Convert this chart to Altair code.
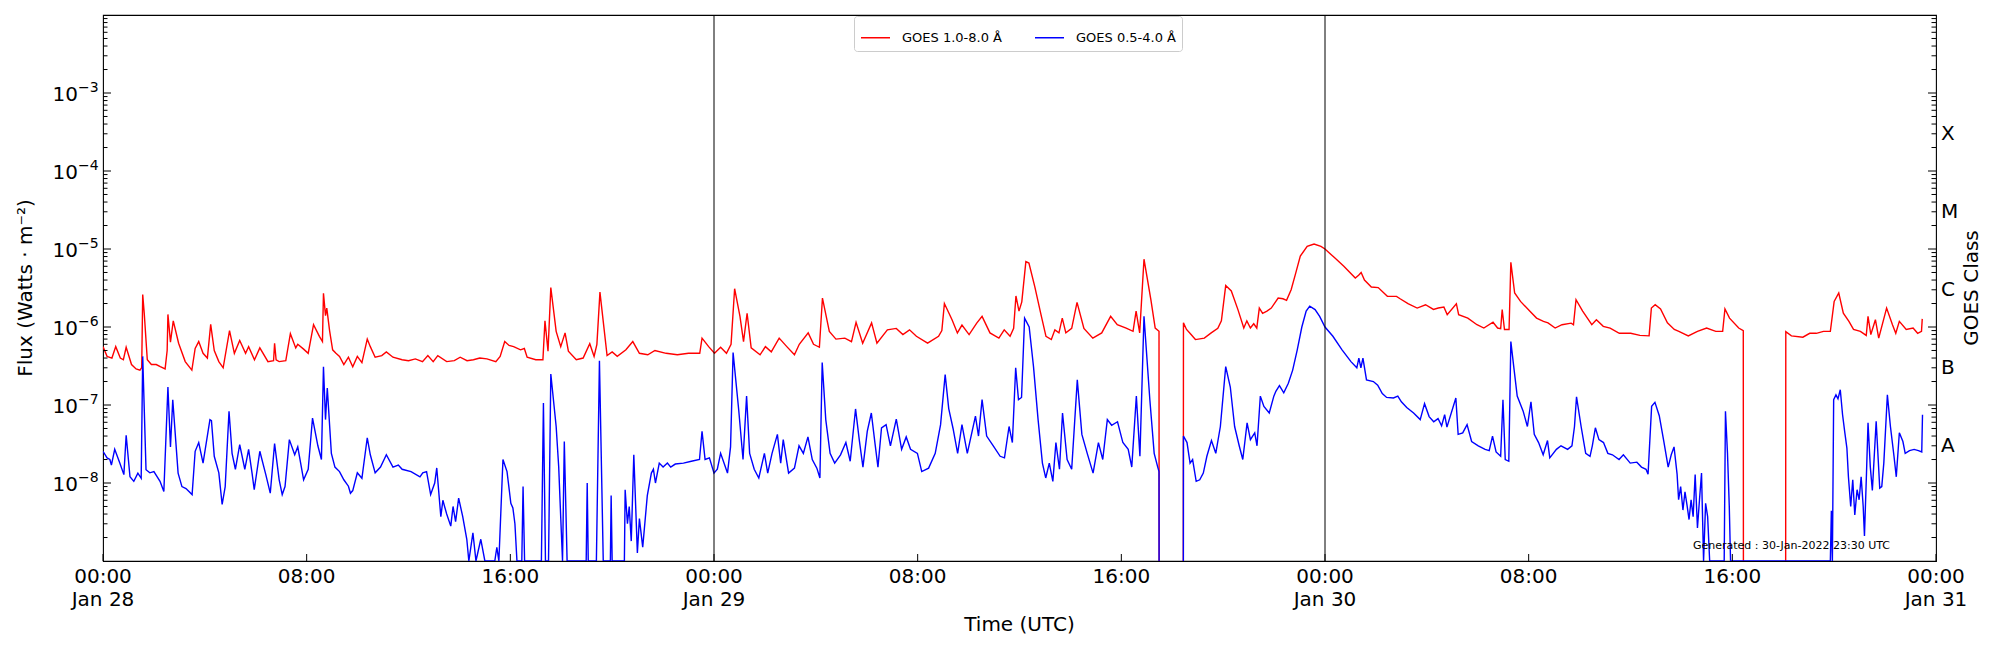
import altair as alt
import pandas as pd

# ---------------- data (hours since 2022-01-28 00:00 UTC, flux in W/m^2) ----------------
RED_NAME = "GOES 1.0-8.0 Å"
BLUE_NAME = "GOES 0.5-4.0 Å"

red_points = [
    (0.00, 5.6e-7), (0.16, 4.2e-7), (0.35, 4.0e-7), (0.50, 5.6e-7), (0.68, 4.0e-7), (0.80, 3.8e-7),
    (0.91, 5.5e-7), (1.12, 3.3e-7), (1.30, 2.9e-7), (1.45, 2.8e-7), (1.52, 3.0e-7), (1.56, 2.6e-6),
    (1.62, 1.5e-6), (1.74, 3.8e-7), (1.90, 3.3e-7), (2.09, 3.3e-7), (2.25, 3.1e-7), (2.44, 2.9e-7),
    (2.52, 5.0e-7), (2.55, 1.45e-6), (2.65, 6.4e-7), (2.76, 1.2e-6), (2.97, 6.2e-7), (3.23, 3.6e-7),
    (3.49, 2.8e-7), (3.62, 5.3e-7), (3.76, 6.5e-7), (3.93, 4.6e-7), (4.10, 4.0e-7), (4.23, 1.08e-6),
    (4.37, 5.0e-7), (4.55, 3.6e-7), (4.72, 3.0e-7), (4.97, 9.0e-7), (5.16, 4.6e-7), (5.37, 6.7e-7),
    (5.60, 4.6e-7), (5.72, 5.6e-7), (5.95, 3.8e-7), (6.16, 5.4e-7), (6.48, 3.6e-7), (6.70, 3.7e-7),
    (6.74, 6.2e-7), (6.80, 3.8e-7), (6.92, 3.6e-7), (7.18, 3.7e-7), (7.36, 8.2e-7), (7.57, 5.4e-7),
    (7.65, 6.0e-7), (7.88, 5.2e-7), (8.06, 4.6e-7), (8.27, 1.07e-6), (8.50, 7.6e-7), (8.62, 6.5e-7),
    (8.66, 2.7e-6), (8.74, 1.4e-6), (8.79, 1.75e-6), (8.90, 9.0e-7), (9.02, 5.1e-7), (9.15, 4.6e-7),
    (9.29, 4.2e-7), (9.46, 3.3e-7), (9.64, 4.1e-7), (9.81, 3.1e-7), (9.99, 4.2e-7), (10.17, 3.5e-7),
    (10.38, 7.0e-7), (10.50, 5.6e-7), (10.69, 4.1e-7), (10.95, 4.3e-7), (11.13, 4.8e-7), (11.39, 4.1e-7),
    (11.75, 3.8e-7), (12.00, 3.7e-7), (12.27, 3.9e-7), (12.55, 3.6e-7), (12.76, 4.3e-7), (12.97, 3.6e-7),
    (13.15, 4.3e-7), (13.50, 3.6e-7), (13.80, 3.7e-7), (14.03, 4.1e-7), (14.30, 3.7e-7), (14.55, 3.8e-7),
    (14.80, 4.0e-7), (15.08, 3.9e-7), (15.43, 3.6e-7), (15.60, 4.2e-7), (15.78, 6.5e-7), (15.95, 5.8e-7),
    (16.13, 5.6e-7), (16.40, 5.1e-7), (16.55, 5.3e-7), (16.66, 4.1e-7), (17.00, 3.8e-7), (17.28, 3.8e-7),
    (17.36, 1.2e-6), (17.48, 4.9e-7), (17.59, 3.2e-6), (17.80, 8.8e-7), (17.98, 5.6e-7), (18.15, 8.4e-7),
    (18.28, 4.9e-7), (18.59, 3.8e-7), (18.86, 4.0e-7), (19.12, 6.1e-7), (19.29, 4.2e-7), (19.40, 6.0e-7),
    (19.52, 2.8e-6), (19.80, 4.3e-7), (20.00, 4.8e-7), (20.20, 4.2e-7), (20.54, 5.1e-7), (20.81, 6.5e-7),
    (21.07, 4.6e-7), (21.40, 4.4e-7), (21.68, 5.0e-7), (22.12, 4.6e-7), (22.56, 4.4e-7), (23.00, 4.6e-7),
    (23.44, 4.6e-7), (23.53, 7.2e-7), (23.79, 5.6e-7), (24.02, 4.6e-7), (24.26, 5.5e-7), (24.49, 4.6e-7),
    (24.67, 6.0e-7), (24.81, 3.1e-6), (25.02, 1.37e-6), (25.16, 6.5e-7), (25.30, 1.5e-6), (25.46, 5.4e-7),
    (25.81, 4.4e-7), (26.02, 5.6e-7), (26.25, 4.8e-7), (26.56, 7.2e-7), (26.86, 5.6e-7), (27.16, 4.4e-7),
    (27.35, 6.0e-7), (27.70, 8.4e-7), (27.91, 6.0e-7), (28.14, 5.5e-7), (28.26, 2.35e-6), (28.53, 8.8e-7),
    (28.79, 7.0e-7), (29.14, 7.2e-7), (29.40, 6.5e-7), (29.58, 1.15e-6), (29.84, 6.2e-7), (30.19, 1.13e-6),
    (30.40, 6.2e-7), (30.81, 9.2e-7), (31.16, 9.6e-7), (31.42, 8.0e-7), (31.68, 9.2e-7), (31.95, 7.6e-7),
    (32.39, 6.2e-7), (32.82, 7.6e-7), (32.95, 9.0e-7), (33.05, 2.0e-6), (33.35, 1.24e-6), (33.56, 8.4e-7),
    (33.74, 1.06e-6), (34.02, 8.0e-7), (34.32, 1.12e-6), (34.53, 1.37e-6), (34.84, 8.4e-7), (35.19, 7.2e-7),
    (35.40, 9.2e-7), (35.63, 7.6e-7), (35.77, 9.6e-7), (35.86, 2.5e-6), (35.98, 1.6e-6), (36.09, 2.1e-6),
    (36.25, 6.9e-6), (36.37, 6.6e-6), (36.60, 3.3e-6), (36.86, 1.37e-6), (37.04, 7.6e-7), (37.25, 6.9e-7),
    (37.39, 9.2e-7), (37.55, 8.4e-7), (37.68, 1.3e-6), (37.82, 8.4e-7), (38.05, 9.6e-7), (38.26, 2.07e-6),
    (38.53, 9.6e-7), (38.88, 7.2e-7), (39.23, 8.4e-7), (39.58, 1.37e-6), (39.84, 1.07e-6), (40.19, 9.7e-7),
    (40.46, 8.8e-7), (40.58, 1.6e-6), (40.72, 8.4e-7), (40.89, 7.4e-6), (41.16, 2.24e-6), (41.33, 9.7e-7),
    (41.48, 8.8e-7), (41.49, 1e-12), (42.43, 1e-12), (42.44, 1.13e-6), (42.56, 9.3e-7), (42.74, 8.0e-7),
    (42.91, 6.9e-7), (43.26, 7.2e-7), (43.53, 8.4e-7), (43.79, 9.6e-7), (43.93, 1.2e-6), (44.10, 3.4e-6),
    (44.32, 2.9e-6), (44.58, 1.67e-6), (44.81, 9.7e-7), (44.93, 1.2e-6), (45.07, 9.7e-7), (45.20, 1.1e-6),
    (45.32, 9.7e-7), (45.42, 1.75e-6), (45.55, 1.5e-6), (45.72, 1.6e-6), (45.89, 1.75e-6), (46.16, 2.35e-6),
    (46.35, 2.3e-6), (46.49, 2.2e-6), (46.67, 3.0e-6), (46.85, 4.9e-6), (47.03, 8.1e-6), (47.30, 1.08e-5),
    (47.57, 1.16e-5), (47.84, 1.08e-5), (48.00, 1.0e-5), (48.38, 7.7e-6), (48.74, 6.0e-6), (49.19, 4.25e-6),
    (49.32, 4.6e-6), (49.42, 5.0e-6), (49.55, 4.0e-6), (49.82, 3.26e-6), (50.09, 3.2e-6), (50.45, 2.47e-6),
    (50.81, 2.47e-6), (50.95, 2.3e-6), (51.26, 1.99e-6), (51.62, 1.75e-6), (51.95, 1.93e-6), (52.26, 1.68e-6),
    (52.45, 1.75e-6), (52.67, 1.8e-6), (52.80, 1.44e-6), (53.16, 1.99e-6), (53.25, 1.44e-6), (53.61, 1.3e-6),
    (53.97, 1.07e-6), (54.24, 9.7e-7), (54.60, 1.15e-6), (54.78, 9.7e-7), (54.90, 9.5e-7), (54.96, 1.67e-6),
    (55.05, 9.3e-7), (55.23, 9.3e-7), (55.30, 6.75e-6), (55.45, 2.73e-6), (55.68, 2.13e-6), (56.04, 1.6e-6),
    (56.31, 1.3e-6), (56.58, 1.18e-6), (56.76, 1.13e-6), (57.04, 9.7e-7), (57.31, 1.07e-6), (57.67, 1.12e-6),
    (57.76, 1.07e-6), (57.86, 2.24e-6), (58.12, 1.6e-6), (58.48, 1.07e-6), (58.66, 1.24e-6), (58.93, 1.02e-6),
    (59.20, 9.7e-7), (59.56, 8.3e-7), (60.01, 8.3e-7), (60.37, 7.8e-7), (60.73, 7.7e-7), (60.82, 1.75e-6),
    (60.97, 1.93e-6), (61.18, 1.7e-6), (61.45, 1.13e-6), (61.72, 9.3e-7), (61.90, 8.8e-7), (62.27, 7.7e-7),
    (62.63, 8.8e-7), (62.99, 9.7e-7), (63.35, 8.8e-7), (63.62, 8.8e-7), (63.71, 1.7e-6), (63.89, 1.3e-6),
    (64.25, 9.7e-7), (64.43, 9.0e-7), (64.44, 1e-12), (66.09, 1e-12), (66.10, 8.7e-7), (66.32, 7.7e-7),
    (66.77, 7.4e-7), (67.04, 8.3e-7), (67.30, 8.3e-7), (67.58, 8.8e-7), (67.85, 8.8e-7), (68.00, 2.13e-6),
    (68.18, 2.73e-6), (68.36, 1.5e-6), (68.58, 1.18e-6), (68.76, 9.3e-7), (69.03, 8.8e-7), (69.26, 7.8e-7),
    (69.33, 1.37e-6), (69.44, 8.0e-7), (69.62, 1.24e-6), (69.75, 7.2e-7), (70.06, 1.75e-6), (70.29, 1.07e-6),
    (70.42, 8.3e-7), (70.56, 1.18e-6), (70.83, 9.3e-7), (71.10, 9.7e-7), (71.28, 8.3e-7), (71.43, 8.8e-7),
    (71.46, 1.27e-6),
]

blue_points = [
    (0.00, 2.55e-8), (0.16, 2.1e-8), (0.27, 2.0e-8), (0.33, 1.7e-8), (0.46, 2.7e-8), (0.66, 1.8e-8),
    (0.82, 1.28e-8), (0.91, 4.1e-8), (1.06, 1.2e-8), (1.21, 1.05e-8), (1.37, 1.34e-8), (1.50, 1.15e-8),
    (1.56, 4.2e-7), (1.69, 1.48e-8), (1.84, 1.35e-8), (2.00, 1.4e-8), (2.24, 1.05e-8), (2.39, 7.8e-9),
    (2.55, 1.7e-7), (2.65, 2.9e-8), (2.74, 1.17e-7), (2.95, 1.34e-8), (3.10, 9.0e-9), (3.26, 8.5e-9),
    (3.50, 7.1e-9), (3.62, 2.55e-8), (3.76, 3.3e-8), (3.93, 1.8e-8), (4.20, 6.5e-8), (4.26, 6.3e-8),
    (4.37, 2.2e-8), (4.55, 1.35e-8), (4.68, 5.3e-9), (4.80, 9.0e-9), (4.95, 8.3e-8), (5.07, 2.4e-8),
    (5.20, 1.5e-8), (5.37, 3.1e-8), (5.57, 1.5e-8), (5.72, 2.7e-8), (5.86, 1.3e-8), (5.94, 8.2e-9),
    (6.16, 2.55e-8), (6.39, 1.3e-8), (6.57, 7.4e-9), (6.74, 3.2e-8), (6.92, 1.1e-8), (7.04, 7.1e-9),
    (7.15, 9.0e-9), (7.32, 3.6e-8), (7.53, 2.3e-8), (7.65, 2.9e-8), (7.88, 1.1e-8), (8.06, 1.5e-8),
    (8.23, 6.8e-8), (8.44, 3.0e-8), (8.58, 2.0e-8), (8.66, 3.1e-7), (8.74, 6.5e-8), (8.81, 1.65e-7),
    (8.97, 2.4e-8), (9.11, 1.6e-8), (9.29, 1.4e-8), (9.46, 1.1e-8), (9.64, 9.1e-9), (9.72, 7.4e-9),
    (9.81, 8.0e-9), (9.99, 1.35e-8), (10.17, 1.15e-8), (10.38, 3.8e-8), (10.50, 2.3e-8), (10.69, 1.35e-8),
    (10.90, 1.6e-8), (11.13, 2.3e-8), (11.39, 1.6e-8), (11.60, 1.7e-8), (11.75, 1.5e-8), (12.10, 1.4e-8),
    (12.45, 1.2e-8), (12.56, 1.35e-8), (12.71, 1.4e-8), (12.87, 7.1e-9), (13.03, 1.0e-8), (13.11, 1.56e-8),
    (13.27, 3.7e-9), (13.35, 6.0e-9), (13.50, 4.0e-9), (13.66, 2.8e-9), (13.75, 5.0e-9), (13.85, 3.2e-9),
    (13.97, 6.4e-9), (14.13, 3.7e-9), (14.29, 1.9e-9), (14.37, 1e-9), (14.53, 2.3e-9), (14.65, 1e-9),
    (14.84, 1.9e-9), (15.00, 1e-9), (15.39, 1e-9), (15.47, 1.5e-9), (15.55, 1e-9), (15.71, 2.0e-8),
    (15.87, 1.4e-8), (16.02, 5.5e-9), (16.10, 4.8e-9), (16.18, 3.0e-9), (16.26, 1e-9), (16.45, 1e-9),
    (16.50, 9.0e-9), (16.56, 1e-9), (17.22, 1e-9), (17.30, 1.06e-7), (17.38, 1e-9), (17.50, 1e-9),
    (17.59, 2.5e-7), (17.80, 5.3e-8), (17.90, 1.6e-8), (17.98, 3.6e-9), (18.05, 1e-9), (18.12, 3.4e-8),
    (18.23, 1e-9), (18.98, 1e-9), (19.02, 1.0e-8), (19.06, 1e-9), (19.38, 1e-9), (19.50, 3.7e-7),
    (19.65, 1e-9), (19.93, 1e-9), (19.96, 6.9e-9), (20.00, 1e-9), (20.48, 1e-9), (20.51, 8.2e-9),
    (20.60, 3.0e-9), (20.67, 5.0e-9), (20.75, 1.8e-9), (20.85, 2.3e-8), (20.99, 1.27e-9), (21.07, 3.5e-9),
    (21.20, 1.5e-9), (21.38, 6.9e-9), (21.54, 1.34e-8), (21.62, 1.5e-8), (21.70, 1.0e-8), (21.85, 1.8e-8),
    (22.00, 1.6e-8), (22.17, 1.8e-8), (22.30, 1.6e-8), (22.48, 1.75e-8), (22.80, 1.8e-8), (23.11, 1.9e-8),
    (23.43, 2.0e-8), (23.53, 4.6e-8), (23.65, 2.0e-8), (23.82, 2.1e-8), (24.00, 1.34e-8), (24.13, 1.5e-8),
    (24.26, 2.4e-8), (24.53, 1.34e-8), (24.65, 2.9e-8), (24.75, 4.7e-7), (24.97, 8.7e-8), (25.14, 2.0e-8),
    (25.28, 1.3e-7), (25.40, 2.4e-8), (25.58, 1.5e-8), (25.76, 1.16e-8), (25.98, 2.4e-8), (26.11, 1.34e-8),
    (26.28, 2.4e-8), (26.49, 4.2e-8), (26.62, 1.8e-8), (26.72, 3.6e-8), (26.93, 1.34e-8), (27.16, 1.55e-8),
    (27.34, 3.0e-8), (27.51, 2.4e-8), (27.69, 3.9e-8), (27.86, 2.0e-8), (28.04, 1.55e-8), (28.16, 1.16e-8),
    (28.25, 3.5e-7), (28.39, 6.5e-8), (28.56, 2.4e-8), (28.74, 1.8e-8), (28.97, 2.3e-8), (29.18, 3.3e-8),
    (29.35, 1.9e-8), (29.56, 8.9e-8), (29.71, 3.5e-8), (29.85, 1.6e-8), (30.02, 4.6e-8), (30.18, 7.9e-8),
    (30.32, 3.3e-8), (30.44, 1.6e-8), (30.58, 5.1e-8), (30.76, 5.6e-8), (30.93, 3.0e-8), (31.16, 6.6e-8),
    (31.37, 2.7e-8), (31.55, 3.9e-8), (31.72, 2.7e-8), (31.99, 2.4e-8), (32.16, 1.4e-8), (32.43, 1.55e-8),
    (32.69, 2.4e-8), (32.90, 5.6e-8), (33.08, 2.45e-7), (33.22, 9.0e-8), (33.39, 5.0e-8), (33.57, 2.4e-8),
    (33.74, 5.6e-8), (33.95, 2.4e-8), (34.27, 7.2e-8), (34.39, 4.0e-8), (34.53, 1.17e-7), (34.71, 4.0e-8),
    (34.97, 3.0e-8), (35.24, 2.2e-8), (35.41, 2.1e-8), (35.59, 5.3e-8), (35.72, 3.3e-8), (35.85, 3.0e-7),
    (35.96, 1.17e-7), (36.08, 1.25e-7), (36.20, 1.3e-6), (36.38, 1.0e-6), (36.55, 3.1e-7), (36.73, 6.5e-8),
    (36.90, 1.8e-8), (37.03, 1.16e-8), (37.17, 1.8e-8), (37.31, 1.05e-8), (37.43, 3.3e-8), (37.57, 1.5e-8),
    (37.69, 7.9e-8), (37.87, 2.0e-8), (38.05, 1.5e-8), (38.27, 2.1e-7), (38.45, 4.2e-8), (38.66, 2.4e-8),
    (38.89, 1.34e-8), (39.10, 3.3e-8), (39.27, 2.0e-8), (39.45, 6.5e-8), (39.62, 5.5e-8), (39.85, 6.1e-8),
    (40.06, 3.3e-8), (40.27, 2.7e-8), (40.41, 1.6e-8), (40.59, 1.3e-7), (40.73, 2.2e-8), (40.89, 1.37e-6),
    (41.12, 1.17e-7), (41.29, 2.4e-8), (41.43, 1.6e-8), (41.48, 1.4e-8), (41.49, 1e-12), (42.43, 1e-12),
    (42.44, 4.0e-8),
    (42.58, 3.3e-8), (42.70, 1.8e-8), (42.80, 2.0e-8), (42.94, 1.05e-8), (43.08, 1.1e-8), (43.22, 1.34e-8),
    (43.36, 2.2e-8), (43.54, 3.5e-8), (43.71, 2.4e-8), (43.89, 5.3e-8), (44.10, 3.1e-7), (44.28, 1.7e-7),
    (44.45, 5.3e-8), (44.63, 3.0e-8), (44.77, 2.0e-8), (44.94, 5.9e-8), (45.07, 3.6e-8), (45.24, 4.4e-8),
    (45.33, 3.0e-8), (45.46, 1.3e-7), (45.60, 9.6e-8), (45.81, 7.9e-8), (45.99, 1.3e-7), (46.07, 1.5e-7),
    (46.21, 1.77e-7), (46.38, 1.43e-7), (46.56, 1.9e-7), (46.73, 2.8e-7), (46.91, 5.1e-7), (47.09, 1.0e-6),
    (47.26, 1.6e-6), (47.40, 1.85e-6), (47.61, 1.67e-6), (47.79, 1.37e-6), (48.00, 1.0e-6), (48.31, 7.6e-7),
    (48.67, 5.1e-7), (49.02, 3.6e-7), (49.25, 3.0e-7), (49.33, 4.0e-7), (49.41, 3.0e-7), (49.49, 4.0e-7),
    (49.63, 2.1e-7), (49.90, 2.0e-7), (50.07, 1.8e-7), (50.25, 1.4e-7), (50.42, 1.25e-7), (50.69, 1.23e-7),
    (50.86, 1.3e-7), (51.00, 1.1e-7), (51.21, 9.3e-8), (51.48, 7.9e-8), (51.74, 6.5e-8), (51.91, 1.04e-7),
    (52.09, 7.1e-8), (52.27, 6.1e-8), (52.44, 6.7e-8), (52.58, 5.4e-8), (52.70, 7.5e-8), (52.79, 5.2e-8),
    (53.14, 1.23e-7), (53.23, 4.2e-8), (53.41, 4.4e-8), (53.58, 5.6e-8), (53.76, 3.4e-8), (54.02, 3.0e-8),
    (54.29, 2.7e-8), (54.45, 2.6e-8), (54.58, 4.0e-8), (54.72, 2.5e-8), (54.90, 2.2e-8), (54.99, 1.17e-7),
    (55.08, 2.0e-8), (55.22, 1.9e-8), (55.30, 6.5e-7), (55.43, 2.8e-7), (55.55, 1.3e-7), (55.78, 8.4e-8),
    (55.95, 5.3e-8), (56.09, 1.1e-7), (56.22, 4.2e-8), (56.39, 3.3e-8), (56.57, 2.3e-8), (56.74, 3.5e-8),
    (56.83, 2.1e-8), (57.09, 2.7e-8), (57.27, 3.0e-8), (57.53, 2.7e-8), (57.70, 3.0e-8), (57.80, 5.3e-8),
    (57.88, 1.27e-7), (58.06, 5.3e-8), (58.24, 2.4e-8), (58.41, 2.2e-8), (58.50, 3.0e-8), (58.62, 5.1e-8),
    (58.76, 3.6e-8), (58.94, 3.3e-8), (59.11, 2.4e-8), (59.29, 2.3e-8), (59.55, 2.0e-8), (59.72, 2.3e-8),
    (59.99, 1.8e-8), (60.25, 1.85e-8), (60.43, 1.6e-8), (60.61, 1.5e-8), (60.69, 1.3e-8), (60.83, 9.6e-8),
    (60.96, 1.08e-7), (61.13, 7.3e-8), (61.31, 3.4e-8), (61.48, 1.6e-8), (61.60, 2.3e-8), (61.71, 2.9e-8),
    (61.83, 1.3e-8), (61.89, 6.1e-9), (61.97, 9.0e-9), (62.06, 4.5e-9), (62.14, 7.7e-9), (62.22, 5.2e-9),
    (62.30, 3.4e-9), (62.38, 6.1e-9), (62.46, 3.7e-9), (62.54, 1.28e-8), (62.63, 2.65e-9), (62.71, 6.1e-9),
    (62.79, 1.34e-8), (62.87, 1e-9), (62.95, 5.5e-9), (63.03, 3.7e-9), (63.11, 1e-9), (63.68, 1e-9),
    (63.73, 8.3e-8), (63.81, 2.4e-8), (63.88, 5.0e-9), (63.93, 1e-9), (67.85, 1e-9), (67.89, 4.4e-9),
    (67.93, 1e-9), (67.98, 1.17e-7), (68.07, 1.35e-7), (68.15, 1.2e-7), (68.24, 1.57e-7), (68.33, 7.5e-8),
    (68.42, 4.4e-8), (68.50, 2.8e-8), (68.56, 1.2e-8), (68.65, 5.0e-9), (68.73, 1.1e-8), (68.81, 3.9e-9),
    (68.90, 8.2e-9), (68.98, 6.1e-9), (69.06, 1.2e-8), (69.14, 5.0e-9), (69.19, 2.1e-9), (69.27, 1.34e-8),
    (69.33, 5.9e-8), (69.42, 1.6e-8), (69.50, 8.0e-9), (69.65, 6.2e-8), (69.73, 2.0e-8), (69.79, 8.6e-9),
    (69.87, 9.0e-9), (69.95, 1.8e-8), (70.09, 1.35e-7), (70.21, 5.3e-8), (70.35, 2.2e-8), (70.44, 1.2e-8),
    (70.56, 4.4e-8), (70.70, 3.4e-8), (70.79, 2.4e-8), (70.96, 2.6e-8), (71.14, 2.7e-8), (71.31, 2.6e-8),
    (71.44, 2.5e-8), (71.47, 7.5e-8),
]

day_boundaries = [24, 48]
x_tick_hours = [0, 8, 16, 24, 32, 40, 48, 56, 64, 72]
x_tick_labels = ["00:00\nJan 28", "08:00", "16:00", "00:00\nJan 29", "08:00", "16:00",
                 "00:00\nJan 30", "08:00", "16:00", "00:00\nJan 31"]
y_decades = [1e-8, 1e-7, 1e-6, 1e-5, 1e-4, 1e-3]
y_exponents = ["\u22128", "\u22127", "\u22126", "\u22125", "\u22124", "\u22123"]
y_minor = [k * 10.0 ** n for n in range(-9, -2) for k in range(2, 10)]
class_values = [3e-8, 3e-7, 3e-6, 3e-5, 3e-4]
class_labels = ["A", "B", "C", "M", "X"]
x_title = "Time (UTC)"
y_title = "Flux (Watts · m\u207b\u00b2)"
right_title = "GOES Class"
generated_text = "Generated : 30-Jan-2022 23:30 UTC"

# ---------------- layout ----------------
W, H = 1833, 546
FONT = "DejaVu Sans"

df = pd.DataFrame(
    [{"t": t, "flux": v, "series": RED_NAME} for t, v in red_points]
    + [{"t": t, "flux": v, "series": BLUE_NAME} for t, v in blue_points]
)

xscale = alt.Scale(domain=[0, 72], nice=False, zero=False)
yscale = alt.Scale(type="log", domain=[1e-9, 1e-2], nice=False)

lines = alt.Chart(df).mark_line(strokeWidth=1.4, clip=True).encode(
    x=alt.X("t:Q", scale=xscale, axis=None),
    y=alt.Y("flux:Q", scale=yscale, axis=alt.Axis(
        values=y_decades, grid=True, gridColor="#b0b0b0", gridWidth=1.1, labels=False,
        ticks=False, domain=False, title=None)),
    color=alt.Color("series:N", scale=alt.Scale(domain=[RED_NAME, BLUE_NAME], range=["#ff0000", "#0000ff"]),
                    legend=alt.Legend(title=None, orient="none", legendX=751, legendY=1,
                                      direction="horizontal", symbolType="stroke", symbolSize=841,
                                      symbolStrokeWidth=1.5, labelFontSize=13, labelOffset=11,
                                      columnPadding=30, padding=6, strokeColor="#cccccc",
                                      fillColor="white", cornerRadius=3, labelFont=FONT)),
)

day_lines = alt.Chart(pd.DataFrame({"t": day_boundaries})).mark_rule(color="black", strokeWidth=1).encode(
    x=alt.X("t:Q", scale=xscale, axis=None))

x_ticks = alt.Chart(pd.DataFrame({"t": x_tick_hours})).mark_rule(color="black", strokeWidth=1).encode(
    x=alt.X("t:Q", scale=xscale, axis=None), y=alt.value(H), y2=alt.value(H - 7))

x_labels = alt.Chart(pd.DataFrame({"t": x_tick_hours, "label": x_tick_labels})).mark_text(
    align="center", baseline="top", fontSize=20, font=FONT, color="black",
    lineBreak="\n", lineHeight=23).encode(
    x=alt.X("t:Q", scale=xscale, axis=None), y=alt.value(H + 5.5), text="label:N")


def ytick(values, x0, x1):
    return alt.Chart(pd.DataFrame({"flux": values})).mark_rule(color="black", strokeWidth=1).encode(
        y=alt.Y("flux:Q", scale=yscale, axis=None), x=alt.value(x0), x2=alt.value(x1))


left_major = ytick(y_decades, 0, 8)
left_minor = ytick(y_minor, 0, 4.5)
right_major = ytick(y_decades, W, W - 8)
right_minor = ytick(y_minor, W, W - 4.5)

ylab_df = pd.DataFrame({"flux": y_decades, "exp": y_exponents, "base": ["10"] * len(y_decades)})
ylab_base = alt.Chart(ylab_df).mark_text(align="right", baseline="alphabetic", dy=8.4, fontSize=20,
                                         font=FONT, color="black").encode(
    y=alt.Y("flux:Q", scale=yscale, axis=None), x=alt.value(-25), text="base:N")
ylab_exp = alt.Chart(ylab_df).mark_text(align="left", baseline="alphabetic", dy=-1, fontSize=14,
                                        font=FONT, color="black").encode(
    y=alt.Y("flux:Q", scale=yscale, axis=None), x=alt.value(-25), text="exp:N")

cls = alt.Chart(pd.DataFrame({"flux": class_values, "cls": class_labels})).mark_text(
    align="left", baseline="middle", fontSize=20, font=FONT, color="black").encode(
    y=alt.Y("flux:Q", scale=yscale, axis=None), x=alt.value(W + 5), text="cls:N")


def free_text(label, x, y, size, align="center", baseline="middle", angle=0):
    kw = dict(align=align, baseline=baseline, fontSize=size, font=FONT, color="black")
    if angle:
        kw["angle"] = angle
    return alt.Chart(pd.DataFrame({"label": [label]})).mark_text(**kw).encode(
        x=alt.value(x), y=alt.value(y), text="label:N")


x_title_t = free_text(x_title, W / 2, H + 69.5, 20, baseline="alphabetic")
y_title_t = free_text(y_title, -77, H / 2, 20, angle=270)
goes_title = free_text(right_title, W + 36, H / 2, 20, angle=270)
gen = free_text(generated_text, W - 46, H - 12.3, 11, align="right", baseline="alphabetic")

chart = alt.layer(
    lines, day_lines, x_ticks, left_major, left_minor, right_major, right_minor,
    x_labels, ylab_base, ylab_exp, cls, x_title_t, y_title_t, goes_title, gen
).properties(
    width=W, height=H,
    autosize=alt.AutoSizeParams(type="none"),
    padding={"left": 95, "top": 7, "right": 56, "bottom": 81},
).configure_view(stroke="black", strokeWidth=1.1).configure_legend(labelFont=FONT, labelColor="black")

chart.save("out.html", embed_options={"renderer": "svg", "actions": False})
